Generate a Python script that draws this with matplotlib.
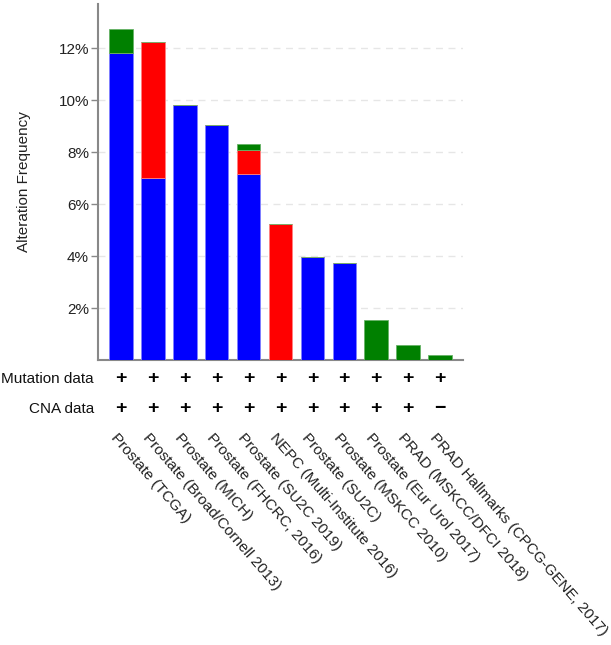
import matplotlib
matplotlib.use("Agg")
import matplotlib.pyplot as plt
import matplotlib.transforms as mtransforms
import numpy as np

plt.rcParams['font.family'] = ['Liberation Sans', 'DejaVu Sans']

studies = ["Prostate (TCGA)", "Prostate (Broad/Cornell 2013)", "Prostate (MICH)",
           "Prostate (FHCRC, 2016)", "Prostate (SU2C 2019)", "NEPC (Multi-Institute 2016)",
           "Prostate (SU2C)", "Prostate (MSKCC 2010)", "Prostate (Eur Urol 2017)",
           "PRAD (MSKCC/DFCI 2018)", "PRAD Hallmarks (CPCG-GENE, 2017)"]
# alteration frequencies (%) by type
mutation = [11.8, 7.0, 9.8, 9.05, 7.17, 0.0, 3.97, 3.74, 0.0, 0.0, 0.0]
amplification = [0.0, 5.22, 0.0, 0.0, 0.91, 5.23, 0.0, 0.0, 0.0, 0.0, 0.0]
multiple = [0.95, 0.0, 0.0, 0.0, 0.22, 0.0, 0.0, 0.0, 1.54, 0.59, 0.2]
mutation_data = ["+"] * 11
cna_data = ["+"] * 10 + ["\u2212"]
yticks = [2, 4, 6, 8, 10, 12]

fig = plt.figure(figsize=(6.11, 6.45), dpi=100)
ax = fig.add_axes([98 / 611, 1 - 360 / 645, (463 - 98) / 611, (360 - 4) / 645])

x = np.arange(len(studies))
mut = np.array(mutation)
amp = np.array(amplification)
mul = np.array(multiple)
w = 0.74
ax.bar(x, mut, width=w, color='#0000ff', edgecolor='#8080ff', linewidth=0.6, zorder=3)
ax.bar(x, amp, width=w, bottom=mut, color='#ff0000', edgecolor='#ff8080', linewidth=0.6, zorder=3)
ax.bar(x, mul, width=w, bottom=mut + amp, color='#008000', edgecolor='#66b366', linewidth=0.6, zorder=3)

ax.set_xlim(-0.72, len(studies) - 1 + 0.72)
ax.set_ylim(0, 13.7)
ax.set_yticks(yticks)
ax.set_yticklabels([f"{v}%" for v in yticks], fontsize=11, color='#222222')
ax.set_xticks([])
for yv in yticks:
    ax.axhline(yv, color='#e6e6e6', linestyle=(0, (5, 4)), linewidth=1.0, zorder=1)

for s in ['top', 'right']:
    ax.spines[s].set_visible(False)
for s in ['left', 'bottom']:
    ax.spines[s].set_color('#888888')
    ax.spines[s].set_linewidth(1.5)
ax.tick_params(axis='y', length=5, width=1, color='#888888', pad=1.5)
ax.set_ylabel("Alteration Frequency", fontsize=11, color='#222222', labelpad=20)

tr = mtransforms.blended_transform_factory(ax.transData, fig.transFigure)
fig.text(94 / 611, 1 - 379 / 645, "Mutation data", ha='right', va='center', fontsize=11, color='#111111')
fig.text(94 / 611, 1 - 409 / 645, "CNA data", ha='right', va='center', fontsize=11, color='#111111')
for i in range(len(studies)):
    ax.text(x[i], 1 - 379 / 645, mutation_data[i], transform=tr, ha='center', va='center',
            fontsize=14, fontweight='bold', color='black')
    ax.text(x[i], 1 - 409 / 645, cna_data[i], transform=tr, ha='center', va='center',
            fontsize=14, fontweight='bold', color='black')
    ax.text(x[i] - 0.08, 1 - 431 / 645, studies[i], transform=tr, ha='left', va='top',
            rotation=-49, rotation_mode='anchor', fontsize=11, color='#222222')

fig.savefig("out.png", dpi=100)
